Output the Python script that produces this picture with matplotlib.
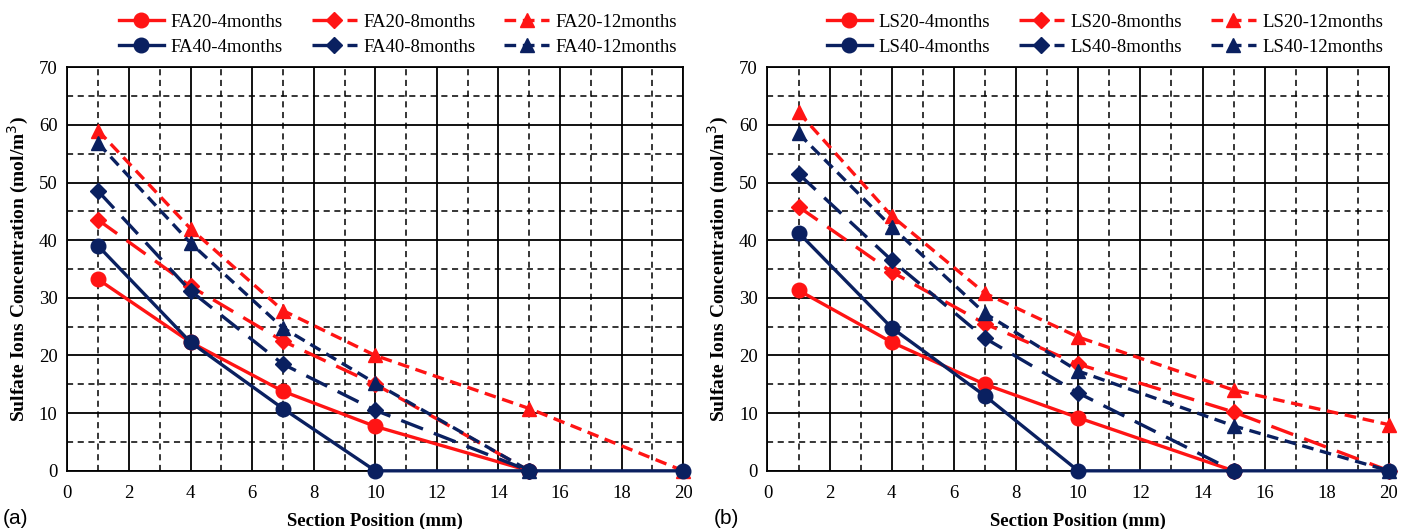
import matplotlib
matplotlib.use("Agg")
import matplotlib.pyplot as plt
from matplotlib.ticker import MultipleLocator

plt.rcParams["font.family"] = ["Liberation Serif", "DejaVu Serif"]

RED = "#ff1414"
NAVY = "#0a2060"

# section positions (mm)
pos = [1, 4, 7, 10, 15, 20]

# left panel (fly ash)
fa20_4 = [33.2, 22.3, 13.8, 7.7, 0.0, None]
fa20_8 = [43.5, 32.0, 22.5, 15.0, 0.0, None]
fa20_12 = [59.0, 42.0, 27.8, 20.0, 10.8, 0.0]
fa40_4 = [39.0, 22.3, 10.8, 0.0, 0.0, 0.0]
fa40_8 = [48.5, 31.2, 18.5, 10.5, 0.0, None]
fa40_12 = [56.8, 39.5, 24.8, 15.2, 0.0, None]

# right panel (limestone)
ls20_4 = [31.3, 22.3, 15.0, 9.2, 0.0, None]
ls20_8 = [45.8, 34.5, 25.5, 18.5, 10.2, 0.0]
ls20_12 = [62.2, 44.2, 30.8, 23.2, 14.0, 8.0]
ls40_4 = [41.3, 24.8, 13.0, 0.0, 0.0, 0.0]
ls40_8 = [51.5, 36.5, 23.0, 13.5, 0.0, None]
ls40_12 = [58.5, 42.3, 27.3, 17.3, 7.8, 0.0]

styles = {
    "4months": dict(ls="-", marker="o", ms=10.5),
    "8months": dict(ls=(0, (7, 3.5)), marker="D", ms=8),
    "12months": dict(ls=(0, (3.5, 2)), marker="^", ms=10),
}


def trim(ys):
    xs = [x for x, y in zip(pos, ys) if y is not None]
    return xs, [y for y in ys if y is not None]


def panel(ax, prefix, series, legx):
    handles = []
    for key, ys in series:
        mix, age = key
        col = RED if mix == "20" else NAVY
        st = styles[age]
        xs, yy = trim(ys)
        (h,) = ax.plot(xs, yy, color=col, lw=2.4, linestyle=st["ls"],
                       marker=st["marker"], ms=st["ms"], mfc=col, mec=col,
                       label=f"{prefix}{mix}-{age}", clip_on=False, zorder=3)
        handles.append(h)
    ax.set_xlim(0, 20)
    ax.set_ylim(0, 70)
    ax.xaxis.set_major_locator(MultipleLocator(2))
    ax.xaxis.set_minor_locator(MultipleLocator(1))
    ax.yaxis.set_major_locator(MultipleLocator(10))
    ax.yaxis.set_minor_locator(MultipleLocator(5))
    ax.grid(which="major", color="black", lw=1.3, ls="-")
    ax.grid(which="minor", color="black", lw=1.1, ls=(0, (4, 3)))
    ax.set_axisbelow(True)
    ax.tick_params(which="both", length=0, labelsize=13.5)
    ax.tick_params(axis="x", pad=10)
    ax.tick_params(axis="y", pad=7)
    for s in ax.spines.values():
        s.set_linewidth(1.3)
    ax.set_xlabel("Section Position (mm)", fontsize=13.5, fontweight="bold", labelpad=8)
    ax.set_ylabel("Sulfate Ions Concentration (mol/m$^3$)", fontsize=14,
                  fontweight="bold", labelpad=6)
    # legend row order: 20 on top, 40 below
    order = [0, 3, 1, 4, 2, 5]
    ax.legend([handles[i] for i in order], [handles[i].get_label() for i in order],
              ncol=3, loc="lower center", bbox_to_anchor=(legx, 1.0), frameon=False,
              fontsize=13.5, handlelength=2.4, columnspacing=1.55, labelspacing=0.42,
              handletextpad=0.35, borderaxespad=0.2)
    return ax


fig = plt.figure(figsize=(14.03, 5.29), dpi=100)
ax1 = fig.add_axes([0.048, 0.11, 0.439, 0.763])
ax2 = fig.add_axes([0.547, 0.11, 0.443, 0.763])

panel(ax1, "FA", [
    (("20", "4months"), fa20_4), (("20", "8months"), fa20_8), (("20", "12months"), fa20_12),
    (("40", "4months"), fa40_4), (("40", "8months"), fa40_8), (("40", "12months"), fa40_12),
], 0.537)
panel(ax2, "LS", [
    (("20", "4months"), ls20_4), (("20", "8months"), ls20_8), (("20", "12months"), ls20_12),
    (("40", "4months"), ls40_4), (("40", "8months"), ls40_8), (("40", "12months"), ls40_12),
], 0.543)

sans = ["Liberation Sans", "DejaVu Sans"]
fig.text(0.002, 0.002, "(a)", fontsize=15, family=sans, ha="left", va="bottom")
fig.text(0.509, 0.002, "(b)", fontsize=15, family=sans, ha="left", va="bottom")

fig.savefig("out.png", dpi=100)
